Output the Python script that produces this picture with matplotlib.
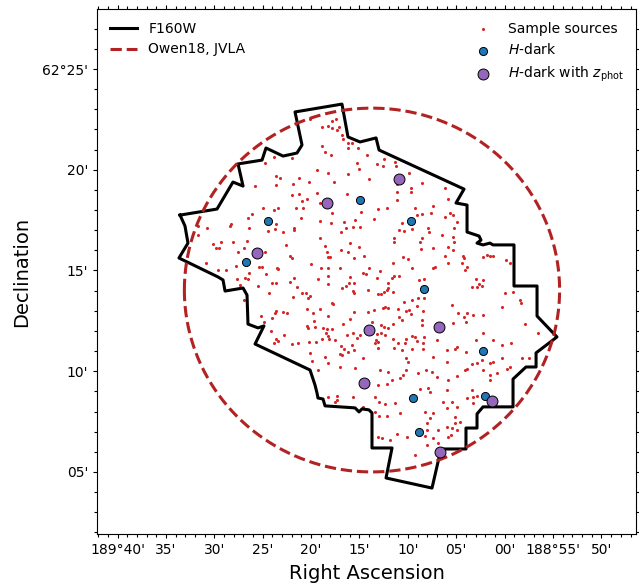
import numpy as np
import matplotlib
matplotlib.use("Agg")
import matplotlib.pyplot as plt
from matplotlib.lines import Line2D
from matplotlib.ticker import FixedLocator, FixedFormatter

# all positions in arcmin: RA measured from 188 deg, Dec measured from 62 deg
ra_base = 188.0
dec_base = 62.0

# F160W footprint outline
f160w_ra = [93.54, 89.72, 88.07, 87.03, 87.55, 85.07, 84.66, 82.90, 81.46, 80.94,
            81.66, 76.81, 76.19, 74.95, 73.29, 72.98, 64.20, 65.03, 63.89, 63.89,
            62.65, 62.45, 62.86, 62.24, 61.52, 61.21, 59.04, 59.04, 56.66, 56.66,
            54.60, 56.76, 56.76, 57.80, 59.14, 59.14, 62.24, 62.86, 62.86, 64.00,
            64.00, 66.58, 67.51, 72.26, 71.64, 73.71, 73.71, 74.02, 74.74, 75.05,
            75.46, 78.56, 78.77, 79.29, 79.39, 79.60, 80.11, 85.79, 84.87, 85.48,
            86.52, 86.62, 87.03, 88.89, 89.10, 89.62, 93.65, 92.72, 93.03, 93.54]
f160w_dec = [17.75, 18.05, 19.39, 19.19, 20.29, 20.48, 21.08, 20.68, 20.83, 21.23,
             22.87, 23.26, 21.63, 21.38, 21.58, 20.98, 19.04, 18.35, 18.25, 16.91,
             16.71, 16.51, 16.36, 16.27, 16.36, 16.27, 16.27, 14.23, 14.23, 12.74,
             11.70, 10.91, 10.21, 10.21, 9.61, 8.23, 8.23, 7.88, 7.18, 7.18,
             6.14, 6.14, 4.20, 4.70, 6.19, 6.19, 7.93, 8.08, 8.13, 7.98,
             8.18, 8.28, 8.62, 8.67, 8.92, 9.32, 10.06, 11.35, 12.25, 12.15,
             12.34, 13.78, 14.13, 13.98, 14.53, 14.68, 15.62, 16.36, 17.21, 17.75]

# Owen18 JVLA field (centre, radius in arcmin)
jvla_ra0 = 73.71
jvla_dec0 = 14.03
jvla_radius = 9.03

# H-dark sources
hdark_ra = [84.45, 86.72, 74.95, 69.68, 68.34, 62.24, 69.47, 62.03, 68.85]
hdark_dec = [17.46, 15.42, 18.50, 17.46, 14.08, 11.00, 8.67, 8.77, 6.98]

# H-dark sources with photometric redshift
zphot_ra = [85.59, 78.36, 70.92, 74.02, 66.79, 74.53, 61.31, 66.68]
zphot_dec = [15.87, 18.35, 19.54, 12.05, 12.20, 9.42, 8.52, 5.99]

# full sample (ra, dec)
sample_src = [
    (83.80, 20.65), (84.76, 20.35), (82.01, 20.57), (83.66, 19.69), (83.18, 19.61),
    (85.80, 19.21), (83.66, 19.23), (81.90, 19.28), (81.22, 19.61), (81.25, 18.78),
    (81.94, 18.75), (80.91, 18.45), (85.00, 18.09), (83.80, 18.00), (83.45, 18.12),
    (81.59, 18.12), (80.87, 18.09), (86.14, 17.79), (86.48, 17.59), (88.27, 17.29),
    (83.63, 17.29), (81.04, 17.62),
    (80.11, 22.52), (78.91, 22.14), (78.22, 22.19), (77.88, 22.42), (77.46, 22.50),
    (77.81, 22.09), (77.36, 21.97), (77.12, 22.14), (76.77, 21.72), (76.67, 21.53),
    (76.22, 21.31), (76.22, 21.10), (75.81, 21.31), (75.19, 21.06), (78.91, 21.18),
    (78.56, 20.86), (77.94, 20.73), (74.26, 20.73), (75.29, 20.32), (75.05, 20.04),
    (73.23, 20.27), (72.54, 20.20), (72.43, 20.52), (71.33, 20.40), (71.26, 20.20),
    (79.42, 19.99), (78.22, 19.82), (76.22, 19.77), (74.02, 19.54), (77.60, 19.38),
    (80.22, 19.38), (71.16, 19.28), (69.68, 19.11), (69.68, 18.91), (68.58, 19.33),
    (69.85, 19.82), (79.42, 18.83), (76.33, 18.78), (71.16, 18.91), (79.08, 18.33),
    (77.88, 17.84), (74.85, 17.92), (73.12, 18.04), (72.19, 18.12), (71.16, 18.50),
    (69.27, 18.12), (67.37, 18.20), (79.08, 17.46), (77.94, 17.37), (76.57, 17.42),
    (75.46, 17.49), (73.47, 17.54), (70.57, 17.34), (69.09, 17.75), (68.51, 17.79),
    (67.61, 17.84), (80.46, 18.55),
    (66.17, 19.11), (65.82, 18.53), (65.65, 17.84), (65.31, 17.75), (66.17, 17.64),
    (64.96, 17.42),
    (91.72, 17.21), (90.72, 17.13), (88.38, 17.21), (86.42, 17.13), (84.42, 16.96),
    (83.73, 17.04), (82.87, 16.90), (81.73, 17.13), (81.73, 17.01), (91.72, 16.76),
    (90.10, 16.30), (89.31, 16.43), (88.03, 16.40), (86.66, 16.47), (82.63, 16.27),
    (89.86, 16.10), (89.51, 16.10), (87.59, 15.94), (86.90, 16.10), (84.76, 15.90),
    (82.18, 15.74), (82.01, 15.61), (90.89, 15.36), (87.79, 15.24), (85.38, 15.19),
    (85.11, 15.19), (83.56, 15.14), (83.45, 15.08), (89.65, 15.03), (88.79, 15.03),
    (86.38, 14.86), (84.66, 14.81), (87.69, 14.56), (86.83, 14.61), (86.48, 14.58),
    (81.73, 14.65), (82.18, 14.45), (84.07, 14.37), (83.66, 14.40), (81.49, 14.20),
    (87.35, 14.28), (85.45, 14.23), (80.91, 13.90), (84.35, 13.87), (81.90, 13.70),
    (86.90, 13.54), (83.66, 13.00), (83.73, 12.88), (82.87, 12.96), (82.52, 12.88),
    (85.18, 12.76), (84.00, 12.63), (84.83, 12.46), (84.14, 12.00), (82.77, 11.80),
    (83.66, 11.60), (83.45, 11.50), (83.80, 11.39), (82.01, 11.34), (81.39, 11.39),
    (76.43, 17.13), (75.71, 17.18), (74.95, 17.18), (76.91, 16.93), (70.92, 17.01),
    (70.37, 16.98), (69.61, 17.04), (67.96, 17.13), (67.82, 16.93), (79.08, 16.63),
    (71.40, 16.63), (68.51, 16.60), (71.40, 16.40), (68.75, 16.40), (75.98, 16.35),
    (75.02, 16.18), (78.56, 16.23), (78.39, 15.94), (78.22, 15.69), (78.05, 15.69),
    (76.91, 16.02), (76.15, 15.94), (75.53, 15.64), (74.50, 15.72), (70.47, 15.69),
    (69.95, 15.57), (68.65, 16.07), (67.37, 16.13), (80.01, 15.31), (78.98, 15.14),
    (78.29, 15.11), (77.01, 15.14), (74.02, 15.11), (72.88, 14.98), (71.50, 15.36),
    (69.61, 15.11), (67.37, 15.14), (78.29, 14.75), (79.32, 14.58), (75.98, 14.66),
    (75.53, 14.36), (74.36, 14.81), (74.60, 14.89), (73.23, 14.65), (71.40, 14.73),
    (71.61, 14.65), (70.92, 14.75), (68.85, 14.53), (68.30, 14.58), (76.08, 14.36),
    (76.43, 14.25), (78.29, 14.32), (72.02, 14.36), (72.02, 14.15), (76.77, 14.12),
    (74.16, 14.03), (75.64, 13.98), (75.53, 13.90), (72.43, 13.95), (72.19, 14.03),
    (71.50, 13.95), (73.05, 13.82), (72.78, 13.82), (80.53, 13.87), (80.11, 13.74),
    (80.35, 13.65), (77.87, 13.41), (77.70, 13.32), (70.37, 13.42), (69.54, 13.54),
    (68.92, 13.62), (68.30, 13.65), (80.46, 13.07), (79.08, 13.07), (79.77, 12.88),
    (78.29, 12.76), (75.53, 12.93), (74.16, 12.93), (73.47, 13.04), (72.54, 13.16),
    (72.36, 13.21), (72.02, 13.12), (70.99, 13.09), (70.23, 12.99), (69.88, 13.04),
    (69.09, 13.24), (68.40, 12.99), (69.68, 12.83), (70.92, 12.71), (68.58, 12.55),
    (79.67, 12.50), (75.98, 12.58), (76.67, 12.33), (73.74, 12.43), (72.78, 12.30),
    (72.43, 12.21), (72.09, 12.16), (71.50, 12.33), (70.64, 12.55), (68.58, 12.30),
    (80.46, 12.25), (80.35, 12.16), (79.60, 12.21), (78.80, 12.13), (78.39, 12.10),
    (77.87, 12.10), (78.49, 11.88), (78.29, 11.77), (76.33, 11.80), (75.64, 11.88),
    (74.95, 11.80), (75.29, 11.67), (73.23, 11.83), (72.78, 11.88), (73.33, 11.55),
    (73.40, 11.39), (73.12, 11.44), (72.36, 11.80), (71.50, 11.59), (71.06, 11.39),
    (70.23, 11.60), (69.54, 11.77), (69.27, 11.72), (69.09, 11.52), (68.30, 11.72),
    (68.40, 11.39), (70.30, 11.39), (80.22, 11.44), (79.49, 11.47), (78.84, 11.59),
    (78.15, 11.60), (77.53, 11.55), (76.91, 11.27), (75.81, 11.30), (75.53, 11.06),
    (76.57, 11.11), (73.12, 11.17), (71.40, 11.17), (70.64, 11.06), (69.61, 11.11),
    (68.40, 11.11), (80.11, 10.89), (77.01, 10.86), (76.15, 10.94),
    (65.24, 17.09), (65.37, 16.64), (65.24, 16.43), (65.82, 16.15), (65.37, 16.01),
    (66.17, 15.71), (65.82, 15.35), (64.27, 15.71), (64.20, 15.60), (64.44, 15.35),
    (63.93, 15.19), (64.10, 15.02), (67.20, 15.15), (62.96, 14.56), (62.62, 14.33),
    (62.20, 14.52), (62.38, 14.23), (62.89, 14.16), (63.41, 14.19), (61.86, 15.76),
    (61.52, 15.71), (61.17, 15.71), (62.27, 15.68), (59.86, 15.52), (59.45, 15.35),
    (59.97, 13.86), (59.11, 13.94), (58.42, 13.56), (66.51, 16.76),
    (65.48, 13.29), (64.86, 12.87), (64.20, 12.71), (63.93, 12.87), (62.20, 12.79),
    (60.31, 13.20), (58.35, 13.40), (65.30, 12.38), (64.00, 12.46), (63.24, 12.79),
    (67.03, 11.55), (66.00, 11.05), (65.13, 11.09), (64.96, 11.22), (64.00, 10.97),
    (62.96, 11.55), (62.20, 11.88), (61.17, 11.55), (60.31, 11.30), (59.38, 11.38),
    (57.90, 12.34), (56.52, 11.88), (58.24, 10.64), (57.45, 10.64), (66.00, 10.47),
    (64.10, 10.06), (63.93, 10.09), (63.41, 10.36), (62.89, 10.42), (62.38, 10.56),
    (61.52, 10.39), (61.17, 10.47), (60.31, 10.64), (62.20, 10.06), (61.52, 9.81),
    (60.83, 9.93), (59.79, 10.09), (59.45, 10.22), (67.03, 9.70), (65.82, 9.56),
    (64.96, 9.76), (61.52, 9.56), (66.00, 9.07), (63.41, 9.07), (63.24, 8.74),
    (66.34, 8.49), (65.48, 8.49), (63.93, 8.65), (63.24, 8.41), (62.89, 8.77),
    (66.00, 8.16), (65.13, 7.74), (64.96, 8.24), (66.00, 7.25), (65.48, 7.16),
    (65.13, 7.41), (65.58, 6.83), (65.82, 6.75), (66.85, 7.08), (64.96, 7.08),
    (64.61, 7.50), (66.85, 6.45), (78.56, 10.72), (76.84, 10.80), (74.60, 10.64),
    (78.22, 10.42), (77.01, 10.19), (75.46, 10.14), (72.88, 10.06), (72.02, 9.98),
    (71.68, 9.56), (70.81, 9.65), (70.19, 10.06), (70.47, 9.81), (70.19, 10.64),
    (69.95, 10.47), (68.92, 9.93), (68.13, 10.06), (67.54, 9.98), (67.37, 10.72),
    (73.05, 9.32), (72.19, 9.37), (68.75, 9.10), (67.89, 9.15), (67.71, 8.98),
    (77.36, 8.77), (77.36, 8.57), (78.22, 8.74), (77.53, 8.49), (75.64, 8.70),
    (73.40, 8.70), (72.95, 8.49), (72.36, 8.37), (71.33, 8.41), (74.60, 8.21),
    (73.40, 7.99), (72.95, 7.78), (72.19, 7.78), (70.81, 7.91), (68.23, 7.99),
    (67.37, 7.94), (67.71, 7.66), (68.06, 7.41), (68.06, 7.08), (68.23, 6.78),
    (67.99, 6.34), (67.37, 6.67), (73.05, 6.72), (72.71, 6.67), (71.85, 6.59),
    (71.16, 6.88), (70.13, 6.72), (69.26, 5.84),
    (79.94, 10.52), (79.25, 10.06),
]

ra_ticks = [100, 95, 90, 85, 80, 75, 70, 65, 60, 55, 50]
ra_ticklabels = ["189°40'", "35'", "30'", "25'", "20'", "15'", "10'", "05'",
                 "00'", "188°55'", "50'"]
dec_ticks = [5, 10, 15, 20, 25]
dec_ticklabels = ["05'", "10'", "15'", "20'", "62°25'"]


def ra_deg(v):
    return ra_base + np.asarray(v, dtype=float) / 60.0


def dec_deg(v):
    return dec_base + np.asarray(v, dtype=float) / 60.0


fig = plt.figure(figsize=(6.39, 5.85), dpi=100)
ax = fig.add_axes([0.1518, 0.0872, 0.8435, 0.8974])

sample_ra, sample_dec = np.array(sample_src).T
ax.scatter(ra_deg(sample_ra), dec_deg(sample_dec), s=5, color='#d62728',
           linewidths=0, zorder=2, label='Sample sources')

l1, = ax.plot(ra_deg(f160w_ra), dec_deg(f160w_dec), color='k', lw=2.2,
              zorder=3, label='F160W')

t = np.linspace(0, 2 * np.pi, 500)
cosd = np.cos(np.deg2rad(dec_base + jvla_dec0 / 60.0))
circ_ra = jvla_ra0 + jvla_radius * np.cos(t) / cosd
circ_dec = jvla_dec0 + jvla_radius * np.sin(t)
l2, = ax.plot(ra_deg(circ_ra), dec_deg(circ_dec), color='#b22222', lw=2.2,
              ls='--', zorder=3, label='Owen18, JVLA')

ax.scatter(ra_deg(hdark_ra), dec_deg(hdark_dec), s=34, color='#1f77b4',
           edgecolors='k', linewidths=0.7, zorder=4, label=r'$H$-dark')
ax.scatter(ra_deg(zphot_ra), dec_deg(zphot_dec), s=62, color='#9467bd',
           edgecolors='k', linewidths=0.7, zorder=5,
           label=r'$H$-dark with $z_{\rm phot}$')

ax.set_xlim(ra_deg(102.118), ra_deg(46.436))
ax.set_ylim(dec_deg(1.92), dec_deg(27.98))

ax.xaxis.set_major_locator(FixedLocator(ra_deg(ra_ticks)))
ax.xaxis.set_major_formatter(FixedFormatter(ra_ticklabels))
ax.xaxis.set_minor_locator(FixedLocator(ra_deg(np.arange(47, 103))))
ax.yaxis.set_major_locator(FixedLocator(dec_deg(dec_ticks)))
ax.yaxis.set_major_formatter(FixedFormatter(dec_ticklabels))
ax.yaxis.set_minor_locator(FixedLocator(dec_deg(np.arange(2, 28))))

ax.tick_params(which='both', direction='out', top=True, right=True,
               labelsize=10, width=0.8)
ax.tick_params(which='major', length=3.2, pad=3)
ax.tick_params(which='minor', length=2)

ax.set_xlabel('Right Ascension', fontsize=14, labelpad=5)
ax.set_ylabel('Declination', fontsize=14, labelpad=8)

leg1 = ax.legend(handles=[l1, l2], loc='upper left', frameon=False, fontsize=10)
ax.add_artist(leg1)
h, lab = ax.get_legend_handles_labels()
sc = [hh for hh, ll in zip(h, lab) if ll not in ('F160W', 'Owen18, JVLA')]
ax.legend(handles=sc, loc='upper right', frameon=False, fontsize=10)

fig.savefig('out.png', dpi=100)
